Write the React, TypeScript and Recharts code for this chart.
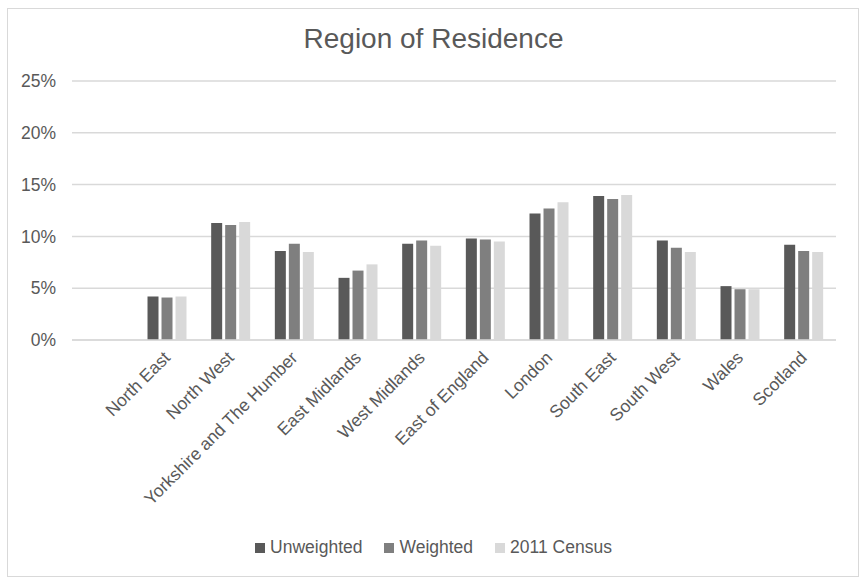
import { BarChart, Bar, XAxis, YAxis, CartesianGrid, Legend } from 'recharts'

const regions = ['', 'North East', 'North West', 'Yorkshire and The Humber', 'East Midlands', 'West Midlands', 'East of England', 'London', 'South East', 'South West', 'Wales', 'Scotland']
const unweighted = [null, 4.2, 11.3, 8.6, 6.0, 9.3, 9.8, 12.2, 13.9, 9.6, 5.2, 9.2]
const weighted = [null, 4.1, 11.1, 9.3, 6.7, 9.6, 9.7, 12.7, 13.6, 8.9, 4.9, 8.6]
const census = [null, 4.2, 11.4, 8.5, 7.3, 9.1, 9.5, 13.3, 14.0, 8.5, 4.9, 8.5]
const yTicks = [0, 5, 10, 15, 20, 25]

const series = [
  { key: 'unweighted', name: 'Unweighted', color: '#595959' },
  { key: 'weighted', name: 'Weighted', color: '#7f7f7f' },
  { key: 'census', name: '2011 Census', color: '#d9d9d9' },
]

const data = regions.map((name, i) => ({
  name,
  unweighted: unweighted[i],
  weighted: weighted[i],
  census: census[i],
}))

const FONT = '"Liberation Sans", Arial, sans-serif'
const TEXT = '#595959'

// legend in fixed series order, like Excel
const renderLegend = () => (
  <div style={{ display: 'flex', justifyContent: 'center', gap: 22, fontFamily: FONT, fontSize: 17.5, color: TEXT }}>
    {series.map((s) => (
      <div key={s.key} style={{ display: 'flex', alignItems: 'center', gap: 5 }}>
        <div style={{ width: 10, height: 10, background: s.color }} />
        <span>{s.name}</span>
      </div>
    ))}
  </div>
)

export default function App() {
  return (
    <div style={{ position: 'absolute', left: 0, top: 0, width: 867, height: 584, background: '#fff', fontFamily: FONT }}>
      <div style={{ position: 'absolute', left: 7, top: 8, width: 850, height: 567, border: '1.5px solid #d9d9d9' }} />
      <div style={{ position: 'absolute', left: 0, top: 23, width: 867, textAlign: 'center', fontSize: 28, color: TEXT }}>
        Region of Residence
      </div>
      <div style={{ position: 'absolute', left: 0, top: 0 }}>
        <BarChart
          width={867}
          height={584}
          data={data}
          margin={{ top: 81, right: 31, left: 0, bottom: 0 }}
          barCategoryGap="18.6%"
          barGap={3}
        >
          <CartesianGrid vertical={false} stroke="#d9d9d9" strokeWidth={1.5} />
          <XAxis
            dataKey="name"
            interval={0}
            angle={-45}
            textAnchor="end"
            height={223}
            tickLine={false}
            axisLine={{ stroke: '#d9d9d9', strokeWidth: 1.5 }}
            tick={{ fontSize: 17.5, fill: TEXT, fontFamily: FONT, dx: -5, dy: 2 }}
          />
          <YAxis
            domain={[0, 25]}
            ticks={yTicks}
            width={72}
            tickLine={false}
            axisLine={false}
            tickFormatter={(v) => `${v}%`}
            tick={{ fontSize: 17.5, fill: TEXT, fontFamily: FONT, dx: -8 }}
          />
          <Legend content={renderLegend} wrapperStyle={{ top: 537, left: 0, width: 867 }} />
          {series.map((s) => (
            <Bar key={s.key} dataKey={s.key} name={s.name} fill={s.color} isAnimationActive={false} />
          ))}
        </BarChart>
      </div>
    </div>
  )
}
